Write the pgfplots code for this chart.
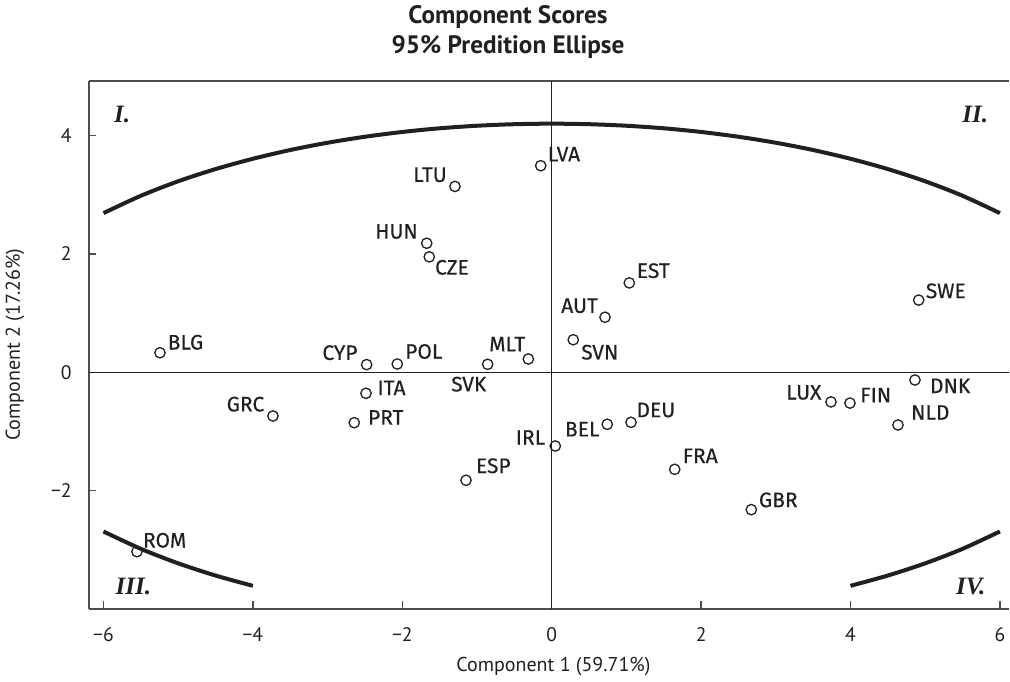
\documentclass[border=0pt]{standalone}
\usepackage{fontspec}
\setmainfont{PT Sans}
\newfontfamily\labfont[FakeBold=0.3]{Fira Sans}
\newfontfamily\romfont{Liberation Serif}
\usepackage{pgfplots}
\pgfplotsset{compat=1.18}
\usepackage{pgfplotstable}
\usetikzlibrary{calc}

\definecolor{ink}{HTML}{231F20}
\definecolor{axisgray}{HTML}{4D4D4D}

% component scores: x, y, country, label offset (pt)
\pgfplotstableread{
x      y      label dx     dy
-0.147  3.49  LVA   11.65   5.75
-1.295  3.14  LTU  -12.5    5.8
-1.673  2.18  HUN  -15.1    5.9
-1.639  1.95  CZE   11.35  -5.25
 1.039  1.51  EST   12.0    6.1
 0.714  0.93  AUT  -12.75   5.75
 0.289  0.55  SVN   13.25  -6.25
 4.913  1.22  SWE   13.55   4.6
 4.863 -0.13  DNK   17.6   -2.9
 3.739 -0.50  LUX  -13.6    4.75
 3.993 -0.52  FIN   12.9    4.0
 4.636 -0.89  NLD   16.15   6.25
 2.672 -2.32  GBR   13.5    4.85
 1.062 -0.845 DEU   12.4    6.15
 0.744 -0.878 BEL  -12.55  -2.45
 0.048 -1.245 IRL  -12.4    4.25
 1.647 -1.639 FRA   12.75   6.75
-1.147 -1.824 ESP   13.65   7.25
-2.477  0.13  CYP  -13.35   5.95
-2.067  0.14  POL   13.25   6.25
-0.857  0.135 SVK   -9.45  -9.95
-0.313  0.225 MLT  -10.55   7.4
-2.486 -0.355 ITA   12.75   2.75
-3.731 -0.738 GRC  -13.75   5.9
-2.643 -0.851 PRT   15.75   2.6
-5.244  0.33  BLG   12.75   5.25
-5.552 -3.03  ROM   13.85   5.7
}\scores

% prediction ellipse
\pgfplotstableread{
x     y
-6.0  2.689
-5.5  2.982
-5.0  3.227
-4.5  3.433
-4.0  3.607
-3.5  3.755
-3.0  3.878
-2.5  3.979
-2.0  4.060
-1.5  4.122
-1.0  4.165
-0.5  4.191
 0.0  4.200
 0.5  4.191
 1.0  4.165
 1.5  4.122
 2.0  4.060
 2.5  3.979
 3.0  3.878
 3.5  3.755
 4.0  3.607
 4.5  3.433
 5.0  3.227
 5.5  2.982
 6.0  2.689
}\ellipsetop

\pgfplotstableread{
x     y
-6.0 -2.689
-5.5 -2.982
-5.0 -3.227
-4.5 -3.433
-4.0 -3.607
}\ellipseleft

\pgfplotstableread{
x     y
 4.0 -3.607
 4.5 -3.433
 5.0 -3.227
 5.5 -2.982
 6.0 -2.689
}\ellipseright

\begin{document}
\begin{tikzpicture}
  \begin{axis}[
      scale only axis,
      width=460.15pt, height=263.85pt,
      xmin=-6.198, xmax=6.122,
      ymin=-3.993, ymax=4.921,
      axis x line*=box, axis y line*=left,
      x axis line style={-}, y axis line style={-},
      axis line style={axisgray, line width=0.85pt},
      xtick pos=left, ytick pos=left,
      xtick={-6,-4,-2,0,2,4,6},
      xticklabels={−6,−4,−2,0,2,4,6},
      ytick={-2,0,2,4},
      yticklabels={−2,0,2,4},
      tick align=inside,
      major tick length=3.75pt,
      tick style={axisgray, line width=0.75pt},
      ticklabel style={font=\fontsize{9.8}{11}\selectfont, text=ink},
      yticklabel style={xshift=-5pt},
      xticklabel style={yshift=-6pt},
      xlabel={Component 1 (59.71\%)},
      ylabel={Component 2 (17.26\%)},
      label style={font=\fontsize{10}{12}\selectfont, text=ink},
      xlabel style={at={(axis description cs:0.505,-0.1095)}, anchor=center},
      ylabel style={at={(axis description cs:-0.0801,0.5)}, anchor=center},
      every axis title shift=0pt,
      title={Component Scores\\95\% Predition Ellipse},
      title style={at={(axis description cs:0.4556,1.0925)}, anchor=center,
        align=center, font=\bfseries\fontsize{12.6}{15}\selectfont, text=ink},
      clip=false,
    ]

    % zero lines
    \addplot[ink, line width=0.75pt] coordinates {(0,-3.993) (0,4.921)};
    \addplot[ink, line width=0.75pt] coordinates {(-6.198,0) (6.122,0)};

    % ellipse
    \addplot[ink, line width=2pt, smooth] table {\ellipsetop};
    \addplot[ink, line width=2pt, smooth] table {\ellipseleft};
    \addplot[ink, line width=2pt, smooth] table {\ellipseright};

    % countries
    \addplot[only marks, mark=o, mark size=2.6pt,
      mark options={draw=ink, fill=white, line width=0.65pt},
      nodes near coords, point meta=explicit symbolic,
      visualization depends on={\thisrow{dx}\as\labdx},
      visualization depends on={\thisrow{dy}\as\labdy},
      every node near coord/.append style={anchor=center, inner sep=0pt,
        xshift=\labdx pt, yshift=\labdy pt,
        font=\labfont\fontsize{10.5}{12}\selectfont, text=ink},
    ] table[x=x, y=y, meta=label] {\scores};

    % quadrant labels
    \node[font=\romfont\bfseries\itshape\fontsize{12.5}{14}\selectfont, text=ink]
      at (axis cs:-5.75,4.36) {I.};
    \node[font=\romfont\bfseries\itshape\fontsize{12.5}{14}\selectfont, text=ink]
      at (axis cs:5.67,4.36) {II.};
    \node[font=\romfont\bfseries\itshape\fontsize{12.5}{14}\selectfont, text=ink]
      at (axis cs:-5.6,-3.62) {III.};
    \node[font=\romfont\bfseries\itshape\fontsize{12.5}{14}\selectfont, text=ink]
      at (axis cs:5.61,-3.62) {IV.};
  \end{axis}
  \pgfresetboundingbox
  \path[use as bounding box]
    ($(current axis.south west)+(-44.35pt,-36.65pt)$) rectangle
    ($(current axis.north east)+(0.5pt,40.5pt)$);
\end{tikzpicture}
\end{document}
